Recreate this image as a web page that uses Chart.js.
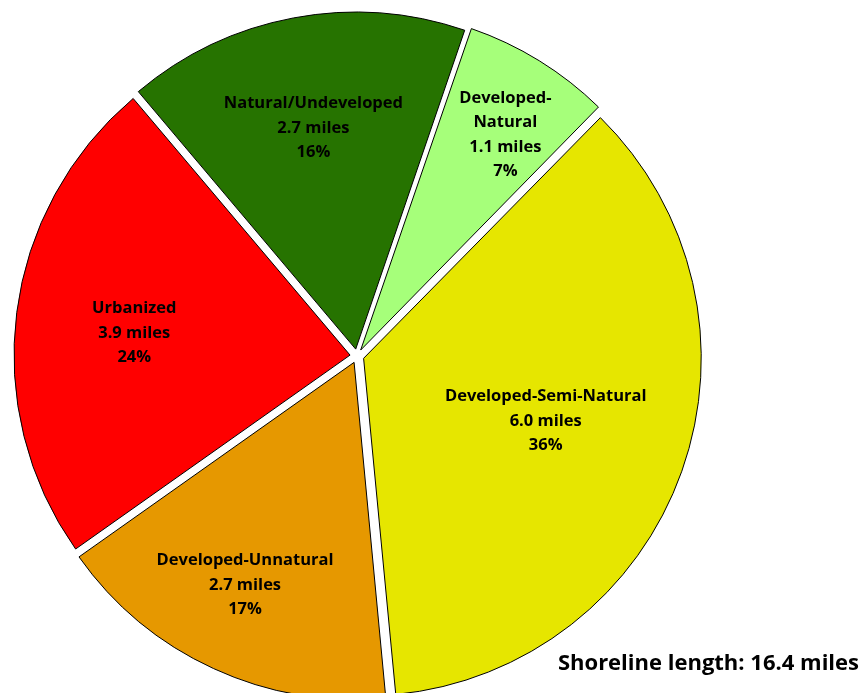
<!DOCTYPE html>
<html><head><meta charset="utf-8">
<script src="https://cdn.jsdelivr.net/npm/chart.js@4.4.1/dist/chart.umd.min.js"></script>
<style>html,body{margin:0;padding:0;background:#fff;overflow:hidden}#wrap{width:863px;height:693px;position:relative}</style>
</head><body><div id="wrap"><canvas id="c"></canvas></div>
<script>
const categories = ['Developed-Natural', 'Developed-Semi-Natural', 'Developed-Unnatural', 'Urbanized', 'Natural/Undeveloped'];
const shares = [7.1, 36.1, 16.7, 23.6, 16.4];
const milesLabels = ['1.1 miles', '6.0 miles', '2.7 miles', '3.9 miles', '2.7 miles'];
const percentLabels = ['7%', '36%', '17%', '24%', '16%'];
const nameLines = [['Developed-', 'Natural'], ['Developed-Semi-Natural'], ['Developed-Unnatural'], ['Urbanized'], ['Natural/Undeveloped']];
const colors = ['#A6FF7A', '#E6E600', '#E69800', '#FF0000', '#267300'];
const footnote = 'Shoreline length: 16.4 miles';

const sliceLabels = {
  id: 'sliceLabels',
  afterDatasetsDraw(chart, args, opts) {
    const ctx = chart.ctx;
    const meta = chart.getDatasetMeta(0);
    ctx.save();
    ctx.font = opts.font;
    ctx.fillStyle = opts.color;
    ctx.textAlign = 'center';
    ctx.textBaseline = 'middle';
    meta.data.forEach((arc, i) => {
      const p = arc.getProps(['x', 'y', 'startAngle', 'endAngle', 'outerRadius'], true);
      const mid = (p.startAngle + p.endAngle) / 2 + opts.angleShift[i] * Math.PI / 180;
      const r = p.outerRadius * opts.radial[i];
      const cx = p.x + Math.cos(mid) * r, cy = p.y + Math.sin(mid) * r + opts.dy;
      const lines = nameLines[i].concat([milesLabels[i], percentLabels[i]]);
      const h = opts.lineHeight;
      const y0 = cy - (lines.length - 1) * h / 2;
      lines.forEach((t, k) => ctx.fillText(t, cx, y0 + k * h));
    });
    ctx.restore();
  }
};
const footnotePlugin = {
  id: 'footnote',
  afterDraw(chart, args, opts) {
    const ctx = chart.ctx;
    ctx.save();
    ctx.font = opts.font;
    ctx.fillStyle = opts.color;
    ctx.textAlign = 'right';
    ctx.textBaseline = 'alphabetic';
    ctx.fillText(footnote, chart.width - opts.right, chart.height - opts.bottom);
    ctx.restore();
  }
};

new Chart(document.getElementById('c'), {
  type: 'pie',
  data: {
    labels: categories,
    datasets: [{
      data: shares,
      backgroundColor: colors,
      borderColor: '#000',
      borderWidth: 1,
      offset: 28,
      hoverOffset: 0
    }]
  },
  options: {
    responsive: true,
    maintainAspectRatio: false,
    animation: false,
    events: [],
    rotation: 18.9,
    radius: 336,
    layout: { padding: { left: 0, right: 149, top: 19, bottom: 0 } },
    plugins: {
      legend: { display: false },
      tooltip: { enabled: false },
      sliceLabels: {
        font: 'bold 16.5px "Open Sans"',
        color: '#000',
        lineHeight: 24.5,
        dy: 2,
        radial: [0.798, 0.592, 0.753, 0.667, 0.696],
        angleShift: [1.9, -1.1, 1.6, -0.9, -0.1]
      },
      footnote: { font: 'bold 22px "Open Sans"', color: '#000', right: 4, bottom: 23 }
    }
  },
  plugins: [sliceLabels, footnotePlugin]
});
</script>
</body></html>
